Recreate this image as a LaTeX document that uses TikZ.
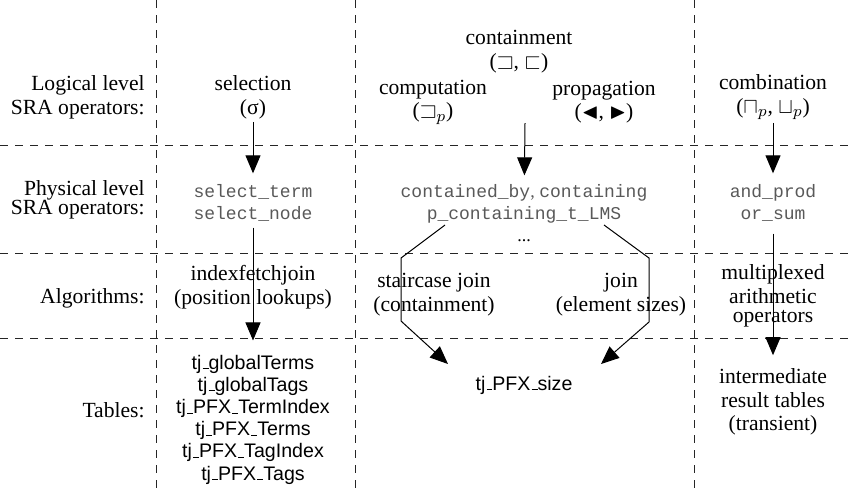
\documentclass[tikz,border=0pt]{standalone}
\usepackage{amssymb}
\usepackage{fontspec}
\setmainfont{Liberation Serif}
\setsansfont{Liberation Sans}
\setmonofont{Liberation Mono}
\usetikzlibrary{arrows.meta}
\newcommand\usc{\leavevmode\kern.06em\vbox{\hrule width.3em}}
\newcommand\tightlines{\lineskiplimit-20pt\relax}
\begin{document}
\begin{tikzpicture}[x=0.5pt,y=-0.5pt,
  gridline/.style={dash pattern=on 4pt off 3.5pt, line width=0.45pt, black!85},
  lbl/.style={anchor=east, align=right, inner sep=0pt, font=\fontsize{10.8}{11.8}\selectfont},
  rmtext/.style={align=center, inner sep=0pt, font=\fontsize{10.8}{11.8}\selectfont},
  tttext/.style={align=center, inner sep=0pt, text=black!65, font=\fontsize{9}{10.8}\selectfont\ttfamily},
  sftext/.style={align=center, inner sep=0pt, font=\fontsize{9.8}{11.1}\selectfont\sffamily},
  arr/.style={-{Triangle[length=9pt,width=7.5pt]}, line width=0.5pt, black}
]
\useasboundingbox (0,0) rectangle (855,488);

% grid
\draw[gridline] (156,0) -- (156,488);
\draw[gridline] (355,0) -- (355,488);
\draw[gridline] (694,0) -- (694,488);
\draw[gridline] (0,145) -- (855,145);
\draw[gridline] (0,253) -- (855,253);
\draw[gridline] (0,338) -- (855,338);

% row labels
\node[lbl] (lgl) at (145,97) {Logical level\\SRA operators:};
\node[lbl, font={\fontsize{10.8}{9.4}\selectfont\tightlines}] (phl) at (145,200) {Physical level\\SRA operators:};
\node[lbl] (all) at (145,298) {Algorithms:};
\node[lbl] (tbl) at (145,410) {Tables:};

% column 1
\node[rmtext] (sel) at (253,97) {selection\\(σ)};
\node[tttext] (selop) at (253,203) {select\_term\\select\_node};
\node[rmtext] (ifj) at (253,287) {indexfetchjoin\\(position lookups)};
\node[sftext] (tabs) at (253,419.5) {tj\usc globalTerms\\tj\usc globalTags\\tj\usc PFX\usc TermIndex\\tj\usc PFX\usc Terms\\tj\usc PFX\usc TagIndex\\tj\usc PFX\usc Tags};

% column 2
\node[rmtext] (cont) at (519,51.5) {containment\\(\(\sqsupset\), \(\sqsubset\))};
\node[rmtext] (comp) at (433,102) {computation\\(\(\sqsupset_p\))};
\node[rmtext] (prop) at (604,102) {propagation\\(\(\blacktriangleleft\), \(\blacktriangleright\))};
\coordinate (contA) at (525,123);
\node[tttext] (physop) at (524,213) {contained\_by{\rmfamily, }containing\\p\_containing\_t\_LMS\\{\rmfamily\color{black}...}};
\node[rmtext] (stair) at (434,294.5) {staircase join\\(containment)};
\node[rmtext] (join) at (621,294.5) {join\\(element sizes)};
\node[sftext] (pfx) at (524,385) {tj\usc PFX\usc size};

% column 3
\node[rmtext] (comb) at (773,97) {combination\\(\(\sqcap_p\), \(\sqcup_p\))};
\node[tttext] (andop) at (773,203) {and\_prod\\or\_sum};
\node[rmtext] (mult) at (773,296) {multiplexed\\arithmetic\\[-2pt]operators};
\node[rmtext] (inter) at (773,402) {intermediate\\result tables\\(transient)};

% hexagon bend points
\coordinate (hL1) at (445,225);
\coordinate (hL2) at (401,258);
\coordinate (hL3) at (401,321);
\coordinate (hL4) at (448,364);
\coordinate (hR1) at (604,225);
\coordinate (hR2) at (649,258);
\coordinate (hR3) at (649,322);
\coordinate (hR4) at (601,364);

% arrows
\draw[arr, shorten <=1.5pt, shorten >=5.5pt] (sel) -- (selop);
\draw[arr, shorten <=3pt, shorten >=7pt] (selop) -- (tabs);
\draw[arr, shorten >=4.5pt] (contA) -- (physop);
\draw[arr, shorten <=1.5pt, shorten >=5.5pt] (comb) -- (andop);
\draw[arr, shorten <=6pt, shorten >=6.5pt] (andop) -- (inter);
\draw[arr] (hL1) -- (hL2) -- (hL3) -- (hL4);
\draw[arr] (hR1) -- (hR2) -- (hR3) -- (hR4);
\end{tikzpicture}
\end{document}
